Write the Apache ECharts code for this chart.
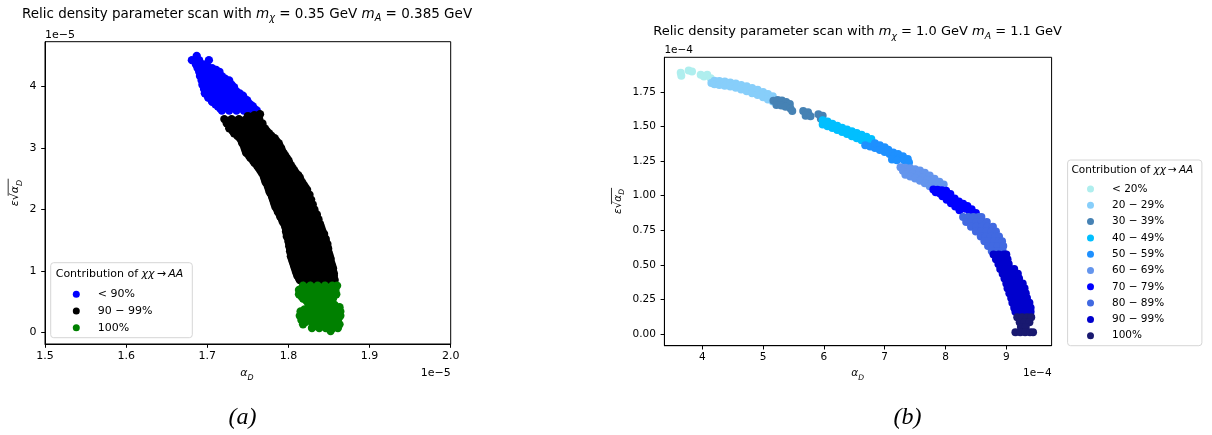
<!DOCTYPE html>
<html><head><meta charset="utf-8">
<script src="https://cdn.jsdelivr.net/npm/echarts@6/dist/echarts.min.js"></script>
<style>html,body{margin:0;padding:0;background:#fff}#c{width:1212px;height:435px}</style>
</head><body><div id="c"></div>
<script>
// ---------- Panel (a): values in units of 1e-5 ----------
const xTicksA = [1.5, 1.6, 1.7, 1.8, 1.9, 2.0];
const yTicksA = [0, 1, 2, 3, 4];
const legendA = ['< 90%', '90 − 99%', '100%'];
const below90A = [
 [1.687,4.50],
 [1.681,4.43],[1.690,4.43],[1.702,4.43],
 [1.686,4.36],[1.695,4.36],
 [1.690,4.33],[1.700,4.33],
 [1.688,4.30],[1.697,4.30],[1.706,4.30],
 [1.692,4.27],[1.702,4.27],[1.711,4.27],
 [1.690,4.24],[1.699,4.24],[1.708,4.24],[1.715,4.24],
 [1.695,4.20],[1.704,4.20],[1.713,4.20],
 [1.691,4.17],[1.700,4.17],[1.709,4.17],[1.718,4.17],
 [1.697,4.13],[1.706,4.13],[1.715,4.13],[1.722,4.13],
 [1.693,4.10],[1.702,4.10],[1.711,4.10],[1.720,4.10],[1.727,4.10],
 [1.698,4.06],[1.707,4.06],[1.716,4.06],[1.725,4.06],
 [1.694,4.03],[1.703,4.03],[1.712,4.03],[1.721,4.03],[1.730,4.03],
 [1.699,3.99],[1.708,3.99],[1.717,3.99],[1.726,3.99],[1.733,3.99],
 [1.696,3.96],[1.714,3.96],[1.723,3.96],[1.732,3.96],
 [1.701,3.92],[1.710,3.92],[1.719,3.92],[1.728,3.92],[1.736,3.92],
 [1.697,3.89],[1.706,3.89],[1.715,3.89],[1.724,3.89],[1.733,3.89],[1.740,3.89],
 [1.703,3.85],[1.712,3.85],[1.721,3.85],[1.730,3.85],[1.739,3.85],[1.744,3.85],
 [1.701,3.82],[1.710,3.82],[1.719,3.82],[1.728,3.82],[1.737,3.82],[1.745,3.82],
 [1.705,3.78],[1.714,3.78],[1.723,3.78],[1.732,3.78],[1.741,3.78],[1.749,3.78],
 [1.706,3.75],[1.715,3.75],[1.724,3.75],[1.733,3.75],[1.742,3.75],[1.750,3.75],
 [1.710,3.71],[1.719,3.71],[1.728,3.71],[1.737,3.71],[1.746,3.71],[1.753,3.71],
 [1.713,3.68],[1.722,3.68],[1.731,3.68],[1.740,3.68],[1.749,3.68],[1.756,3.68],
 [1.716,3.64],[1.725,3.64],[1.734,3.64],[1.743,3.64],[1.752,3.64],[1.758,3.64],
 [1.718,3.61],[1.727,3.61],[1.736,3.61],[1.745,3.61],[1.754,3.61],[1.761,3.61]
];
const from90to99A = [
 [1.750,3.52],[1.758,3.535],[1.765,3.55],
 [1.721,3.47],[1.730,3.47],[1.739,3.47],[1.748,3.47],[1.757,3.47],[1.764,3.47],
 [1.726,3.435],[1.735,3.435],[1.744,3.435],[1.753,3.435],[1.762,3.435],
 [1.724,3.40],[1.733,3.40],[1.742,3.40],[1.751,3.40],[1.760,3.40],[1.768,3.40],
 [1.729,3.36],[1.738,3.36],[1.747,3.36],[1.756,3.36],[1.765,3.36],
 [1.727,3.32],[1.736,3.32],[1.745,3.32],[1.754,3.32],[1.763,3.32],[1.771,3.32],
 [1.731,3.28],[1.740,3.28],[1.749,3.28],[1.758,3.28],[1.767,3.28],[1.773,3.28],
 [1.733,3.24],[1.742,3.24],[1.751,3.24],[1.760,3.24],[1.769,3.24],[1.776,3.24],
 [1.737,3.20],[1.746,3.20],[1.755,3.20],[1.764,3.20],[1.773,3.20],[1.779,3.20],
 [1.740,3.16],[1.749,3.16],[1.758,3.16],[1.767,3.16],[1.776,3.16],[1.783,3.16],
 [1.742,3.12],[1.751,3.12],[1.760,3.12],[1.769,3.12],[1.778,3.12],[1.785,3.12],
 [1.743,3.08],[1.752,3.08],[1.761,3.08],[1.770,3.08],[1.779,3.08],[1.788,3.08],
 [1.745,3.04],[1.754,3.04],[1.763,3.04],[1.772,3.04],[1.781,3.04],[1.789,3.04],
 [1.746,3.00],[1.755,3.00],[1.764,3.00],[1.773,3.00],[1.782,3.00],[1.791,3.00],
 [1.747,2.96],[1.756,2.96],[1.765,2.96],[1.774,2.96],[1.783,2.96],[1.792,2.96],
 [1.748,2.92],[1.757,2.92],[1.766,2.92],[1.775,2.92],[1.784,2.92],[1.794,2.92],
 [1.751,2.88],[1.760,2.88],[1.769,2.88],[1.778,2.88],[1.787,2.88],[1.796,2.88],
 [1.753,2.84],[1.762,2.84],[1.771,2.84],[1.780,2.84],[1.789,2.84],[1.798,2.84],
 [1.756,2.80],[1.765,2.80],[1.774,2.80],[1.783,2.80],[1.792,2.80],[1.800,2.80],
 [1.758,2.76],[1.767,2.76],[1.776,2.76],[1.785,2.76],[1.794,2.76],[1.801,2.76],
 [1.761,2.72],[1.770,2.72],[1.779,2.72],[1.788,2.72],[1.797,2.72],[1.803,2.72],
 [1.763,2.68],[1.772,2.68],[1.781,2.68],[1.790,2.68],[1.799,2.68],[1.805,2.68],
 [1.765,2.64],[1.774,2.64],[1.783,2.64],[1.792,2.64],[1.801,2.64],[1.807,2.64],
 [1.767,2.60],[1.776,2.60],[1.785,2.60],[1.794,2.60],[1.803,2.60],[1.809,2.60],
 [1.769,2.56],[1.778,2.56],[1.787,2.56],[1.796,2.56],[1.805,2.56],[1.812,2.56],
 [1.770,2.52],[1.779,2.52],[1.788,2.52],[1.797,2.52],[1.806,2.52],[1.814,2.52],
 [1.771,2.48],[1.780,2.48],[1.789,2.48],[1.798,2.48],[1.807,2.48],[1.815,2.48],
 [1.772,2.44],[1.781,2.44],[1.790,2.44],[1.799,2.44],[1.808,2.44],[1.817,2.44],
 [1.774,2.40],[1.783,2.40],[1.792,2.40],[1.801,2.40],[1.810,2.40],[1.819,2.40],
 [1.775,2.36],[1.784,2.36],[1.793,2.36],[1.802,2.36],[1.811,2.36],[1.821,2.36],
 [1.776,2.32],[1.785,2.32],[1.794,2.32],[1.803,2.32],[1.812,2.32],[1.817,2.32],[1.823,2.32],
 [1.777,2.28],[1.786,2.28],[1.795,2.28],[1.804,2.28],[1.813,2.28],[1.822,2.28],
 [1.779,2.24],[1.788,2.24],[1.797,2.24],[1.806,2.24],[1.815,2.24],[1.820,2.24],[1.826,2.24],
 [1.780,2.20],[1.789,2.20],[1.798,2.20],[1.807,2.20],[1.816,2.20],[1.825,2.20],
 [1.781,2.16],[1.790,2.16],[1.799,2.16],[1.808,2.16],[1.817,2.16],[1.822,2.16],[1.828,2.16],
 [1.782,2.12],[1.791,2.12],[1.800,2.12],[1.809,2.12],[1.818,2.12],[1.827,2.12],
 [1.783,2.08],[1.792,2.08],[1.801,2.08],[1.810,2.08],[1.819,2.08],[1.824,2.08],[1.830,2.08],
 [1.784,2.04],[1.793,2.04],[1.802,2.04],[1.811,2.04],[1.820,2.04],[1.829,2.04],
 [1.786,2.00],[1.795,2.00],[1.804,2.00],[1.813,2.00],[1.822,2.00],[1.827,2.00],[1.832,2.00],
 [1.787,1.96],[1.796,1.96],[1.805,1.96],[1.814,1.96],[1.823,1.96],[1.832,1.96],
 [1.789,1.92],[1.798,1.92],[1.807,1.92],[1.816,1.92],[1.825,1.92],[1.830,1.92],[1.835,1.92],
 [1.790,1.88],[1.799,1.88],[1.808,1.88],[1.817,1.88],[1.826,1.88],[1.835,1.88],
 [1.792,1.84],[1.801,1.84],[1.810,1.84],[1.819,1.84],[1.828,1.84],[1.833,1.84],[1.837,1.84],
 [1.793,1.80],[1.802,1.80],[1.811,1.80],[1.820,1.80],[1.829,1.80],[1.837,1.80],
 [1.795,1.76],[1.804,1.76],[1.813,1.76],[1.822,1.76],[1.831,1.76],[1.836,1.76],[1.839,1.76],
 [1.796,1.72],[1.805,1.72],[1.814,1.72],[1.823,1.72],[1.832,1.72],[1.840,1.72],
 [1.797,1.68],[1.806,1.68],[1.815,1.68],[1.824,1.68],[1.833,1.68],[1.838,1.68],[1.841,1.68],
 [1.797,1.64],[1.806,1.64],[1.815,1.64],[1.824,1.64],[1.833,1.64],[1.842,1.64],
 [1.798,1.60],[1.807,1.60],[1.816,1.60],[1.825,1.60],[1.834,1.60],[1.839,1.60],[1.844,1.60],
 [1.798,1.56],[1.807,1.56],[1.816,1.56],[1.825,1.56],[1.834,1.56],[1.844,1.56],
 [1.800,1.52],[1.809,1.52],[1.818,1.52],[1.827,1.52],[1.836,1.52],[1.841,1.52],[1.846,1.52],
 [1.800,1.48],[1.809,1.48],[1.818,1.48],[1.827,1.48],[1.836,1.48],[1.846,1.48],
 [1.801,1.44],[1.810,1.44],[1.819,1.44],[1.828,1.44],[1.837,1.44],[1.842,1.44],[1.848,1.44],
 [1.801,1.40],[1.810,1.40],[1.819,1.40],[1.828,1.40],[1.837,1.40],[1.848,1.40],
 [1.802,1.36],[1.811,1.36],[1.820,1.36],[1.829,1.36],[1.838,1.36],[1.843,1.36],[1.849,1.36],
 [1.802,1.32],[1.811,1.32],[1.820,1.32],[1.829,1.32],[1.838,1.32],[1.849,1.32],
 [1.803,1.28],[1.812,1.28],[1.821,1.28],[1.830,1.28],[1.839,1.28],[1.844,1.28],[1.850,1.28],
 [1.803,1.24],[1.812,1.24],[1.821,1.24],[1.830,1.24],[1.839,1.24],[1.851,1.24],
 [1.804,1.20],[1.813,1.20],[1.822,1.20],[1.831,1.20],[1.840,1.20],[1.845,1.20],[1.852,1.20],
 [1.805,1.16],[1.814,1.16],[1.823,1.16],[1.832,1.16],[1.841,1.16],[1.852,1.16],
 [1.806,1.12],[1.815,1.12],[1.824,1.12],[1.833,1.12],[1.842,1.12],[1.847,1.12],[1.853,1.12],
 [1.807,1.08],[1.816,1.08],[1.825,1.08],[1.834,1.08],[1.843,1.08],[1.854,1.08],
 [1.808,1.04],[1.817,1.04],[1.826,1.04],[1.835,1.04],[1.844,1.04],[1.849,1.04],[1.855,1.04],
 [1.809,1.00],[1.818,1.00],[1.827,1.00],[1.836,1.00],[1.845,1.00],[1.855,1.00],
 [1.810,0.96],[1.819,0.96],[1.828,0.96],[1.837,0.96],[1.846,0.96],[1.851,0.96],[1.856,0.96],
 [1.811,0.92],[1.820,0.92],[1.829,0.92],[1.838,0.92],[1.847,0.92],[1.856,0.92],
 [1.813,0.88],[1.822,0.88],[1.831,0.88],[1.840,0.88],[1.849,0.88],[1.856,0.88],
 [1.814,0.85],[1.823,0.85],[1.832,0.85],[1.841,0.85],[1.850,0.85],[1.857,0.85]
];
const full100A = [
 [1.818,0.76],[1.827,0.76],[1.836,0.76],[1.845,0.76],[1.854,0.76],[1.860,0.76],
 [1.817,0.725],[1.826,0.725],[1.835,0.725],[1.844,0.725],[1.853,0.725],
 [1.813,0.69],[1.822,0.69],[1.831,0.69],[1.840,0.69],[1.849,0.69],[1.858,0.69],
 [1.817,0.655],[1.826,0.655],[1.835,0.655],[1.845,0.655],[1.855,0.655],
 [1.813,0.62],[1.822,0.62],[1.831,0.62],[1.840,0.62],[1.852,0.62],[1.859,0.62],
 [1.816,0.585],[1.825,0.585],[1.834,0.585],[1.851,0.585],
 [1.818,0.55],[1.827,0.55],[1.836,0.55],[1.845,0.55],[1.855,0.55],
 [1.822,0.515],[1.831,0.515],[1.840,0.515],[1.850,0.515],
 [1.824,0.48],[1.833,0.48],[1.842,0.48],[1.851,0.48],
 [1.829,0.445],[1.847,0.445],[1.857,0.445],
 [1.826,0.41],[1.835,0.41],[1.844,0.41],[1.853,0.41],[1.863,0.41],
 [1.820,0.375],[1.829,0.375],[1.838,0.375],[1.847,0.375],[1.856,0.375],
 [1.815,0.34],[1.824,0.34],[1.833,0.34],[1.842,0.34],[1.851,0.34],[1.860,0.34],[1.864,0.34],
 [1.819,0.305],[1.828,0.305],[1.837,0.305],[1.846,0.305],[1.855,0.305],[1.861,0.305],
 [1.814,0.27],[1.823,0.27],[1.832,0.27],[1.841,0.27],[1.850,0.27],[1.859,0.27],[1.864,0.27],
 [1.818,0.235],[1.827,0.235],[1.836,0.235],[1.845,0.235],[1.854,0.235],[1.862,0.235],
 [1.816,0.20],[1.825,0.20],[1.834,0.20],[1.843,0.20],[1.852,0.20],[1.861,0.20],
 [1.821,0.165],[1.830,0.165],[1.839,0.165],[1.848,0.165],[1.857,0.165],
 [1.818,0.13],[1.830,0.13],[1.839,0.13],[1.848,0.13],[1.857,0.13],[1.863,0.13],
 [1.834,0.10],[1.843,0.10],[1.852,0.10],[1.859,0.10],
 [1.829,0.07],[1.838,0.07],[1.846,0.07],[1.855,0.07],[1.861,0.07],
 [1.852,0.02]
];

// ---------- Panel (b): values in units of 1e-4 ----------
const xTicksB = [4, 5, 6, 7, 8, 9];
const yTicksB = [0, 0.25, 0.5, 0.75, 1.0, 1.25, 1.5, 1.75];
const legendB = ['< 20%', '20 − 29%', '30 − 39%', '40 − 49%', '50 − 59%', '60 − 69%', '70 − 79%', '80 − 89%', '90 − 99%', '100%'];
const below20B = [[3.645,1.889],[3.655,1.866],[3.776,1.905],[3.831,1.897],[3.974,1.873],[4.028,1.861],[4.082,1.873],[4.138,1.849]];
const from20to29B = [
 [4.15,1.815],[4.20,1.830],[4.20,1.805],[4.28,1.829],[4.28,1.800],[4.37,1.825],[4.37,1.795],
 [4.46,1.818],[4.46,1.788],[4.55,1.810],[4.55,1.779],[4.64,1.800],[4.64,1.767],[4.73,1.790],[4.73,1.754],
 [4.82,1.778],[4.82,1.740],[4.91,1.765],[4.91,1.727],[5.00,1.750],[5.00,1.712],[5.08,1.735],[5.08,1.695],
 [5.16,1.718],[5.16,1.680]
];
const from30to39B = [
 [5.17,1.685],[5.24,1.692],[5.31,1.688],[5.38,1.676],[5.44,1.662],[5.22,1.655],[5.30,1.652],[5.37,1.642],
 [5.45,1.630],[5.48,1.612],
 [5.66,1.612],[5.74,1.602],[5.70,1.578],[5.78,1.574],
 [5.91,1.588],[5.98,1.578],[5.95,1.556]
];
const from40to49B = [
 [5.98,1.545],[5.98,1.515],[6.06,1.535],[6.06,1.502],[6.14,1.520],[6.14,1.488],[6.22,1.505],[6.22,1.474],
 [6.30,1.490],[6.30,1.460],[6.38,1.478],[6.38,1.445],[6.46,1.465],[6.46,1.430],[6.54,1.452],[6.54,1.414],
 [6.62,1.440],[6.62,1.400],[6.70,1.425],[6.70,1.388],[6.78,1.410]
];
const from50to59B = [
 [6.68,1.365],[6.76,1.355],[6.84,1.345],[6.84,1.378],[6.92,1.365],[6.92,1.330],[7.00,1.350],[7.00,1.315],
 [7.06,1.332],[7.08,1.300],[7.14,1.312],[7.16,1.285],[7.22,1.300],[7.24,1.270],[7.30,1.285],[7.32,1.255],
 [7.38,1.265],[7.40,1.240],[7.12,1.262],[7.20,1.255]
];
const from60to69B = [
 [7.26,1.205],[7.34,1.202],[7.42,1.197],[7.50,1.190],[7.58,1.181],[7.66,1.165],[7.74,1.145],[7.82,1.122],[7.90,1.100],[7.97,1.080],
 [7.30,1.180],[7.38,1.170],[7.46,1.158],[7.54,1.146],[7.62,1.130],[7.70,1.112],[7.78,1.092],[7.86,1.075],
 [7.34,1.150],[7.42,1.138],[7.50,1.124],[7.58,1.108],[7.66,1.090],[7.74,1.068],[7.80,1.055]
];
const from70to79B = [
 [7.80,1.045],[7.87,1.042],[7.94,1.038],[8.01,1.035],[8.08,1.012],[8.15,0.980],[8.22,0.958],[8.29,0.942],[8.36,0.925],[8.43,0.902],[8.50,0.875],
 [7.84,1.025],[7.91,1.015],[7.98,1.010],[8.05,0.990],[8.12,0.968],[8.19,0.945],[8.26,0.925],[8.33,0.905],[8.40,0.885],
 [7.95,0.995],[8.02,0.970],[8.09,0.945],[8.16,0.922],[8.23,0.895]
];
const from80to89B = [
 [8.29,0.845],[8.375,0.845],[8.46,0.845],[8.545,0.845],[8.59,0.845],
 [8.34,0.810],[8.425,0.810],[8.51,0.810],[8.595,0.810],[8.68,0.810],
 [8.42,0.775],[8.51,0.775],[8.60,0.775],[8.69,0.775],[8.78,0.775],
 [8.50,0.740],[8.585,0.740],[8.67,0.740],[8.755,0.740],[8.83,0.740],
 [8.58,0.705],[8.66,0.705],[8.74,0.705],[8.82,0.705],[8.88,0.705],
 [8.64,0.670],[8.72,0.670],[8.80,0.670],[8.88,0.670],[8.93,0.670],
 [8.70,0.635],[8.78,0.635],[8.86,0.635],[8.95,0.635],
 [8.76,0.600],[8.85,0.600],[8.94,0.600]
];
const from90to99B = [
 [8.79,0.575],[8.875,0.575],[8.96,0.575],[9.00,0.575],
 [8.83,0.540],[8.92,0.540],[9.02,0.540],
 [8.87,0.505],[8.955,0.505],[9.04,0.505],
 [8.90,0.470],[8.98,0.470],[9.06,0.470],[9.13,0.470],
 [8.94,0.435],[9.02,0.435],[9.10,0.435],[9.19,0.435],
 [8.97,0.400],[9.05,0.400],[9.13,0.400],[9.21,0.400],
 [9.00,0.365],[9.09,0.365],[9.18,0.365],[9.27,0.365],
 [9.02,0.330],[9.11,0.330],[9.20,0.330],[9.30,0.330],
 [9.05,0.295],[9.14,0.295],[9.23,0.295],[9.32,0.295],
 [9.08,0.260],[9.17,0.260],[9.26,0.260],[9.34,0.260],
 [9.10,0.225],[9.19,0.225],[9.28,0.225],[9.38,0.225],
 [9.13,0.190],[9.22,0.190],[9.31,0.190],[9.40,0.190],
 [9.15,0.160],[9.24,0.160],[9.33,0.160],[9.40,0.160]
];
const full100B = [
 [9.18,0.120],[9.26,0.120],[9.34,0.120],[9.41,0.120],
 [9.22,0.085],[9.30,0.085],[9.38,0.085],
 [9.24,0.050],[9.32,0.050],
 [9.15,0.012],[9.23,0.012],[9.31,0.012],[9.39,0.012],[9.44,0.012]
];

// ---------- styles ----------
const colorsA = ['#0000ff', '#000000', '#008000'];
const colorsB = ['#afeeee', '#87cefa', '#4682b4', '#00bfff', '#1e90ff', '#6495ed', '#0000ff', '#4169e1', '#0000cd', '#191970'];
const FONT = '"DejaVu Sans", sans-serif';
const SERIF = '"Liberation Serif", "DejaVu Serif", serif';

const seriesA = [below90A, from90to99A, full100A];
const seriesB = [below20B, from20to29B, from30to39B, from40to49B, from50to59B, from60to69B, from70to79B, from80to89B, from90to99B, full100B];

function mk(name, data, color, idx, size) {
  return { type: 'scatter', name, data, xAxisIndex: idx, yAxisIndex: idx, symbol: 'circle', symbolSize: size,
    itemStyle: { color, opacity: 1 }, emphasis: { disabled: true }, silent: true, animation: false };
}
function axis(gi, min, max, ticks, fmt, fs, margin) {
  return { type: 'value', gridIndex: gi, min, max,
    axisLine: { show: true, onZero: false, lineStyle: { color: '#000', width: 1 } },
    axisTick: { show: true, inside: false, length: 3.8, lineStyle: { color: '#000', width: 1 }, customValues: ticks },
    axisLabel: { show: true, customValues: ticks, formatter: fmt, color: '#000', fontFamily: FONT, fontSize: fs, margin },
    splitLine: { show: false } };
}
function txt(x, y, text, o) {
  return { type: 'text', x, y, silent: true, z: 10,
    style: Object.assign({ text, fill: '#000', fontFamily: FONT, fontSize: 11, align: 'center', verticalAlign: 'middle' }, o || {}) };
}
const richBase = (fs) => ({
  it: { fontStyle: 'italic', fontFamily: FONT, fontSize: fs, lineHeight: fs + 6 },
  sub: { fontStyle: 'italic', fontFamily: FONT, fontSize: fs * 0.72, lineHeight: fs * 0.72, verticalAlign: 'bottom' }
});

const series = [];
legendA.forEach((n, i) => series.push(mk('a|' + n, seriesA[i], colorsA[i], 0, 8.3)));
legendB.forEach((n, i) => series.push(mk('b|' + n, seriesB[i], colorsB[i], 1, 8)));

function yLabel(cx, cy, fs) {
  return { type: 'group', x: cx, y: cy, rotation: Math.PI / 2, silent: true, children: [
    { type: 'text', x: 0, y: 0, style: { text: '{it|ε}√{it|α}{sub|D}', fill: '#000', fontFamily: FONT, fontSize: fs,
      lineHeight: fs + 6, align: 'center', verticalAlign: 'middle', rich: richBase(fs) } },
    { type: 'line', shape: { x1: -fs * 0.25, y1: -fs * 0.62, x2: fs * 1.3, y2: -fs * 0.62 }, style: { stroke: '#000', lineWidth: 0.8 } }
  ] };
}

const option = {
  animation: false,
  backgroundColor: '#fff',
  grid: [
    { left: 45, top: 41.7, width: 405.7, height: 302.3, show: true, borderColor: '#000', borderWidth: 1, backgroundColor: 'transparent' },
    { left: 664.4, top: 57.3, width: 387.2, height: 288.4, show: true, borderColor: '#000', borderWidth: 1, backgroundColor: 'transparent' }
  ],
  xAxis: [
    axis(0, 1.5, 2.0, xTicksA, v => v.toFixed(1), 11, 6.5),
    axis(1, 3.377, 9.745, xTicksB, v => String(Math.round(v)), 10.5, 6.5)
  ],
  yAxis: [
    axis(0, -0.19, 4.73, yTicksA, v => String(Math.round(v)), 11, 8.5),
    axis(1, -0.085, 2.0, yTicksB, v => v.toFixed(2), 10.5, 8.5)
  ],
  legend: [
    { data: legendA.map(n => 'a|' + n), orient: 'vertical', left: 72.8, top: 287.3, padding: 0, itemGap: 2.7,
      itemWidth: 33, itemHeight: 7, icon: 'circle', selectedMode: false, formatter: n => n.split('|')[1],
      textStyle: { color: '#000', fontFamily: FONT, fontSize: 11, lineHeight: 14 } },
    { data: legendB.map(n => 'b|' + n), orient: 'vertical', left: 1087, top: 182, padding: 0, itemGap: 2.3,
      itemWidth: 33, itemHeight: 7, icon: 'circle', selectedMode: false, formatter: n => n.split('|')[1],
      textStyle: { color: '#000', fontFamily: FONT, fontSize: 10.5, lineHeight: 14 } }
  ],
  graphic: [
    { type: 'rect', z: 1, silent: true, shape: { x: 50.7, y: 262.7, width: 141.6, height: 75, r: 3 }, style: { fill: 'rgba(255,255,255,0.8)', stroke: '#d6d6d6', lineWidth: 1 } },
    { type: 'rect', z: 1, silent: true, shape: { x: 1067.6, y: 160, width: 134.3, height: 185.7, r: 3 }, style: { fill: 'rgba(255,255,255,0.8)', stroke: '#d6d6d6', lineWidth: 1 } },
    txt(55.7, 274, 'Contribution of {it|χχ}\u2009→\u2009{it|AA}', { align: 'left', fontSize: 11, rich: richBase(11) }),
    txt(1071.5, 170.7, 'Contribution of {it|χχ}\u2009→\u2009{it|AA}', { align: 'left', fontSize: 10.5, rich: richBase(10.5) }),
    txt(247, 14, 'Relic density parameter scan with {it|m}{sub|χ} = 0.35 GeV {it|m}{sub|A} = 0.385 GeV', { fontSize: 13.5, lineHeight: 19.5, rich: richBase(13.5) }),
    txt(857.6, 32, 'Relic density parameter scan with {it|m}{sub|χ} = 1.0 GeV {it|m}{sub|A} = 1.1 GeV', { fontSize: 13, lineHeight: 19, rich: richBase(13) }),
    txt(247, 373, '{it|α}{sub|D}', { fontSize: 11, lineHeight: 17, rich: richBase(11) }),
    txt(857.6, 373.5, '{it|α}{sub|D}', { fontSize: 10.5, lineHeight: 16.5, rich: richBase(10.5) }),
    txt(45, 34.7, '1e\u22125', { align: 'left', fontSize: 11 }),
    txt(450.7, 372.7, '1e\u22125', { align: 'right', fontSize: 11 }),
    txt(664.4, 50.7, '1e\u22124', { align: 'left', fontSize: 10.5 }),
    txt(1051.6, 373, '1e\u22124', { align: 'right', fontSize: 10.5 }),
    yLabel(15, 193, 11),
    yLabel(618, 201.5, 10.5),
    txt(242.5, 417.5, '(a)', { fontFamily: SERIF, fontStyle: 'italic', fontSize: 24 }),
    txt(907.4, 417.5, '(b)', { fontFamily: SERIF, fontStyle: 'italic', fontSize: 24 })
  ],
  series
};
const chart = echarts.init(document.getElementById('c'));
chart.setOption(option);
</script></body></html>
